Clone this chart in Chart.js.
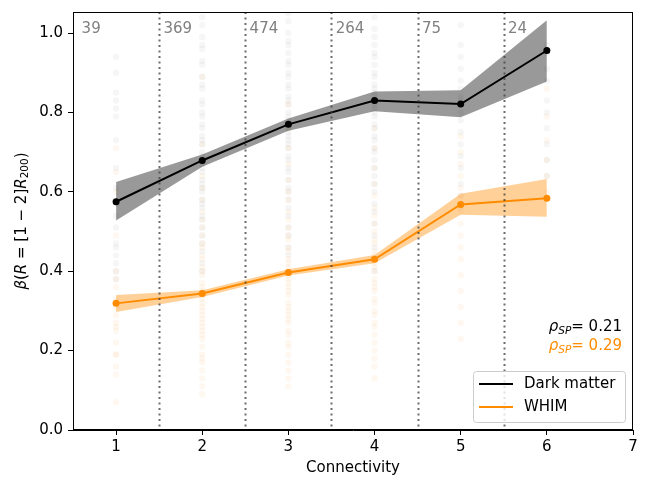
<!DOCTYPE html>
<html>
<head>
<meta charset="utf-8">
<script src="https://cdn.jsdelivr.net/npm/chart.js@4.4.1/dist/chart.umd.min.js"></script>
<style>
  html, body { margin: 0; padding: 0; background: #fff; }
</style>
</head>
<body>
<canvas id="myChart" width="651" height="477"></canvas>
<script>
// connectivity bins
const connectivity = [1, 2, 3, 4, 5, 6];
const xTicks = [1, 2, 3, 4, 5, 6, 7];
const yTicks = [0.0, 0.2, 0.4, 0.6, 0.8, 1.0];

// number of filaments per bin, written at the top
const binCounts = ['39', '369', '474', '264', '75', '24'];
const countX = [0.6, 1.55, 2.55, 3.55, 4.55, 5.55];
const dividers = [1.5, 2.5, 3.5, 4.5, 5.5];

// medians and bands
const dmMedian = [0.575, 0.679, 0.770, 0.830, 0.821, 0.956];
const dmLow    = [0.528, 0.663, 0.754, 0.803, 0.788, 0.878];
const dmHigh   = [0.625, 0.694, 0.785, 0.853, 0.856, 1.032];

const whimMedian = [0.319, 0.344, 0.397, 0.430, 0.568, 0.584];
const whimLow    = [0.297, 0.335, 0.389, 0.420, 0.542, 0.537];
const whimHigh   = [0.340, 0.352, 0.405, 0.441, 0.595, 0.632];

// faint individual values behind the medians (one list per bin)
const dmCloud = [
  [0.94, 0.90, 0.85, 0.83, 0.81, 0.79, 0.73, 0.66, 0.61, 0.57, 0.54, 0.51, 0.47, 0.46, 0.44, 0.42, 0.40, 0.38],
  [1.04, 1.02, 0.99, 0.97, 0.96, 0.93, 0.92, 0.89, 0.87, 0.86, 0.83, 0.82, 0.80, 0.79, 0.77, 0.76, 0.74, 0.73, 0.72,
   0.70, 0.69, 0.68, 0.67, 0.66, 0.65, 0.63, 0.62, 0.61, 0.60, 0.58, 0.57, 0.56, 0.54, 0.53, 0.51, 0.49, 0.47, 0.45, 0.42, 0.40],
  [1.05, 1.03, 1.00, 0.98, 0.97, 0.95, 0.93, 0.92, 0.90, 0.89, 0.87, 0.86, 0.84, 0.83, 0.82, 0.80, 0.79, 0.78, 0.77,
   0.76, 0.75, 0.74, 0.73, 0.72, 0.71, 0.69, 0.68, 0.66, 0.65, 0.63, 0.61, 0.60, 0.58, 0.56, 0.54, 0.51, 0.49, 0.46, 0.44],
  [1.04, 1.01, 0.99, 0.97, 0.95, 0.94, 0.92, 0.90, 0.89, 0.87, 0.86, 0.85, 0.84, 0.83, 0.82, 0.81, 0.80, 0.79, 0.77,
   0.76, 0.74, 0.73, 0.71, 0.70, 0.68, 0.66, 0.64, 0.62, 0.60, 0.57, 0.55, 0.52, 0.49, 0.46, 0.43, 0.40],
  [1.02, 0.97, 0.94, 0.91, 0.88, 0.86, 0.84, 0.83, 0.82, 0.80, 0.78, 0.75, 0.72, 0.69, 0.66, 0.62, 0.59, 0.56],
  [0.97, 0.95, 0.91, 0.88, 0.83, 0.80, 0.76, 0.72, 0.68, 0.64]
];
const whimCloud = [
  [0.71, 0.65, 0.60, 0.49, 0.40, 0.38, 0.36, 0.33, 0.31, 0.29, 0.27, 0.26, 0.25, 0.22, 0.19, 0.19, 0.16, 0.14, 0.07],
  [0.89, 0.72, 0.68, 0.64, 0.61, 0.58, 0.55, 0.53, 0.51, 0.49, 0.47, 0.46, 0.44, 0.43, 0.41, 0.40, 0.39, 0.37, 0.36, 0.35,
   0.34, 0.33, 0.32, 0.31, 0.30, 0.29, 0.28, 0.27, 0.26, 0.25, 0.24, 0.23, 0.21, 0.19, 0.18, 0.17, 0.15, 0.13, 0.11, 0.09],
  [0.82, 0.76, 0.71, 0.67, 0.63, 0.60, 0.58, 0.55, 0.53, 0.51, 0.49, 0.48, 0.46, 0.45, 0.43, 0.42, 0.41, 0.40, 0.39, 0.38,
   0.37, 0.36, 0.35, 0.34, 0.32, 0.31, 0.30, 0.29, 0.28, 0.27, 0.25, 0.24, 0.22, 0.21, 0.19, 0.17, 0.15, 0.13, 0.11],
  [0.76, 0.71, 0.66, 0.62, 0.59, 0.56, 0.54, 0.52, 0.50, 0.48, 0.47, 0.45, 0.44, 0.43, 0.42, 0.41, 0.40, 0.38, 0.37, 0.36,
   0.35, 0.33, 0.32, 0.30, 0.29, 0.27, 0.26, 0.24, 0.22, 0.20, 0.18, 0.16, 0.13],
  [0.74, 0.70, 0.67, 0.64, 0.61, 0.59, 0.57, 0.55, 0.52, 0.49, 0.46, 0.43, 0.39, 0.35, 0.31, 0.27, 0.23],
  [0.86, 0.79, 0.73, 0.68, 0.64, 0.60]
];

const rhoDM = '0.21';
const rhoWHIM = '0.29';

const ORANGE = '#ff8c00';
const FONT = "'DejaVu Sans', sans-serif";
const FS = 15;

function points(ys) {
  return connectivity.map((x, i) => ({ x: x, y: ys[i] }));
}
function cloudPoints(cloud) {
  var out = [];
  cloud.forEach(function (col, i) {
    col.forEach(function (v) { out.push({ x: connectivity[i], y: v }); });
  });
  return out;
}

// draws a run of text pieces (italic / subscript) starting at x
function drawPieces(ctx, pieces, x, y, size) {
  pieces.forEach(function (p) {
    var fs = p.sub ? size * 0.7 : size;
    ctx.font = (p.i ? 'italic ' : '') + fs + 'px ' + FONT;
    ctx.fillText(p.t, x, p.sub ? y + size * 0.22 : y);
    x += ctx.measureText(p.t).width;
  });
  return x;
}
function piecesWidth(ctx, pieces, size) {
  var w = 0;
  pieces.forEach(function (p) {
    var fs = p.sub ? size * 0.7 : size;
    ctx.font = (p.i ? 'italic ' : '') + fs + 'px ' + FONT;
    w += ctx.measureText(p.t).width;
  });
  return w;
}

const decorPlugin = {
  id: 'decor',
  afterDatasetsDraw: function (chart) {
    var ctx = chart.ctx, a = chart.chartArea;
    var xs = chart.scales.x, ys = chart.scales.y;
    ctx.save();

    // dotted bin dividers
    ctx.strokeStyle = 'rgba(60,60,60,0.75)';
    ctx.lineWidth = 2;
    ctx.setLineDash([2, 3.5]);
    dividers.forEach(function (d) {
      var px = Math.round(xs.getPixelForValue(d)) + 0.5;
      ctx.beginPath();
      ctx.moveTo(px, a.top);
      ctx.lineTo(px, a.bottom);
      ctx.stroke();
    });
    ctx.setLineDash([]);

    // frame
    ctx.strokeStyle = '#000';
    ctx.lineWidth = 1;
    ctx.strokeRect(a.left + 0.5, a.top + 0.5, a.right - a.left - 1, a.bottom - a.top - 1);

    // bin counts
    ctx.fillStyle = '#808080';
    ctx.font = FS + 'px ' + FONT;
    ctx.textBaseline = 'middle';
    ctx.textAlign = 'left';
    binCounts.forEach(function (c, i) {
      ctx.fillText(c, xs.getPixelForValue(countX[i]), ys.getPixelForValue(1.01));
    });

    // spearman coefficients
    ctx.textBaseline = 'alphabetic';
    [[rhoDM, '#000', 331], [rhoWHIM, ORANGE, 350]].forEach(function (r) {
      var pcs = [{ t: 'ρ', i: true }, { t: 'SP', i: true, sub: true }, { t: '= ' + r[0] }];
      var w = piecesWidth(ctx, pcs, FS);
      ctx.fillStyle = r[1];
      drawPieces(ctx, pcs, 622 - w, r[2], FS);
    });

    // legend
    var lx = 473, ly = 371, lw = 152, lh = 51;
    ctx.beginPath();
    if (ctx.roundRect) ctx.roundRect(lx + 0.5, ly + 0.5, lw, lh, 3); else ctx.rect(lx + 0.5, ly + 0.5, lw, lh);
    ctx.fillStyle = 'rgba(255,255,255,0.8)';
    ctx.fill();
    ctx.strokeStyle = '#cccccc';
    ctx.stroke();
    var items = [[chart.data.datasets[0].label, '#000'], [chart.data.datasets[1].label, ORANGE]];
    items.forEach(function (it, k) {
      var yy = ly + 13 + k * 23;
      ctx.strokeStyle = it[1];
      ctx.lineWidth = 2;
      ctx.beginPath();
      ctx.moveTo(lx + 6, yy);
      ctx.lineTo(lx + 40, yy);
      ctx.stroke();
      ctx.fillStyle = '#000';
      ctx.font = FS + 'px ' + FONT;
      ctx.textBaseline = 'middle';
      ctx.fillText(it[0], lx + 51, yy);
    });

    // y axis title with math-style pieces
    ctx.translate(22, (a.top + a.bottom) / 2);
    ctx.rotate(-Math.PI / 2);
    ctx.fillStyle = '#000';
    ctx.textBaseline = 'middle';
    var title = [{ t: 'β', i: true }, { t: '(' }, { t: 'R', i: true }, { t: ' = [1 − 2]' },
                 { t: 'R', i: true }, { t: '200', sub: true }, { t: ')' }];
    var tw = piecesWidth(ctx, title, FS);
    drawPieces(ctx, title, -tw / 2, 0, FS);

    ctx.restore();
  }
};

const config = {
  type: 'scatter',
  data: {
    datasets: [
      { label: 'Dark matter', data: points(dmMedian), showLine: true, borderColor: '#000',
        backgroundColor: '#000', borderWidth: 2, pointRadius: 3.5, pointBorderWidth: 0, order: 0 },
      { label: 'WHIM', data: points(whimMedian), showLine: true, borderColor: ORANGE,
        backgroundColor: ORANGE, borderWidth: 2, pointRadius: 3.5, pointBorderWidth: 0, order: 0 },
      { label: 'dm low', data: points(dmLow), showLine: true, borderWidth: 0, pointRadius: 0,
        borderColor: 'rgba(0,0,0,0)', fill: false, order: 2 },
      { label: 'dm high', data: points(dmHigh), showLine: true, borderWidth: 0, pointRadius: 0,
        borderColor: 'rgba(0,0,0,0)', backgroundColor: 'rgba(0,0,0,0.4)', fill: '-1', order: 2 },
      { label: 'whim low', data: points(whimLow), showLine: true, borderWidth: 0, pointRadius: 0,
        borderColor: 'rgba(0,0,0,0)', fill: false, order: 2 },
      { label: 'whim high', data: points(whimHigh), showLine: true, borderWidth: 0, pointRadius: 0,
        borderColor: 'rgba(0,0,0,0)', backgroundColor: 'rgba(255,140,0,0.4)', fill: '-1', order: 2 },
      { label: 'dm cloud', data: cloudPoints(dmCloud), pointRadius: 3.2, pointBorderWidth: 0,
        backgroundColor: 'rgba(100,100,100,0.06)', order: 5 },
      { label: 'whim cloud', data: cloudPoints(whimCloud), pointRadius: 3.2, pointBorderWidth: 0,
        backgroundColor: 'rgba(230,130,20,0.06)', order: 5 }
    ]
  },
  options: {
    responsive: false,
    animation: false,
    layout: { padding: { left: 0, right: 18, top: 12, bottom: 0 } },
    plugins: { legend: { display: false }, tooltip: { enabled: false } },
    scales: {
      x: {
        type: 'linear', min: 0.5, max: 7,
        afterBuildTicks: function (axis) { axis.ticks = xTicks.map(v => ({ value: v })); },
        afterFit: function (axis) { axis.height = 47; },
        grid: { drawOnChartArea: false, drawTicks: true, tickLength: 5, color: '#000' },
        border: { display: true, color: '#000', width: 1 },
        ticks: { color: '#000', font: { family: FONT, size: FS }, padding: 3, maxRotation: 0,
                 callback: v => String(v) },
        title: { display: true, text: 'Connectivity', color: '#000', font: { family: FONT, size: FS },
                 padding: { top: 6, bottom: 0 } }
      },
      y: {
        min: 0, max: 1.053,
        afterBuildTicks: function (axis) { axis.ticks = yTicks.map(v => ({ value: v })); },
        afterFit: function (axis) { axis.width = 73; },
        grid: { drawOnChartArea: false, drawTicks: true, tickLength: 5, color: '#000' },
        border: { display: true, color: '#000', width: 1 },
        ticks: { color: '#000', font: { family: FONT, size: FS, lineHeight: 0.9 }, padding: 5,
                 callback: v => v.toFixed(1) }
      }
    }
  },
  plugins: [decorPlugin]
};

var myChart = new Chart(document.getElementById('myChart'), config);
</script>
</body>
</html>
